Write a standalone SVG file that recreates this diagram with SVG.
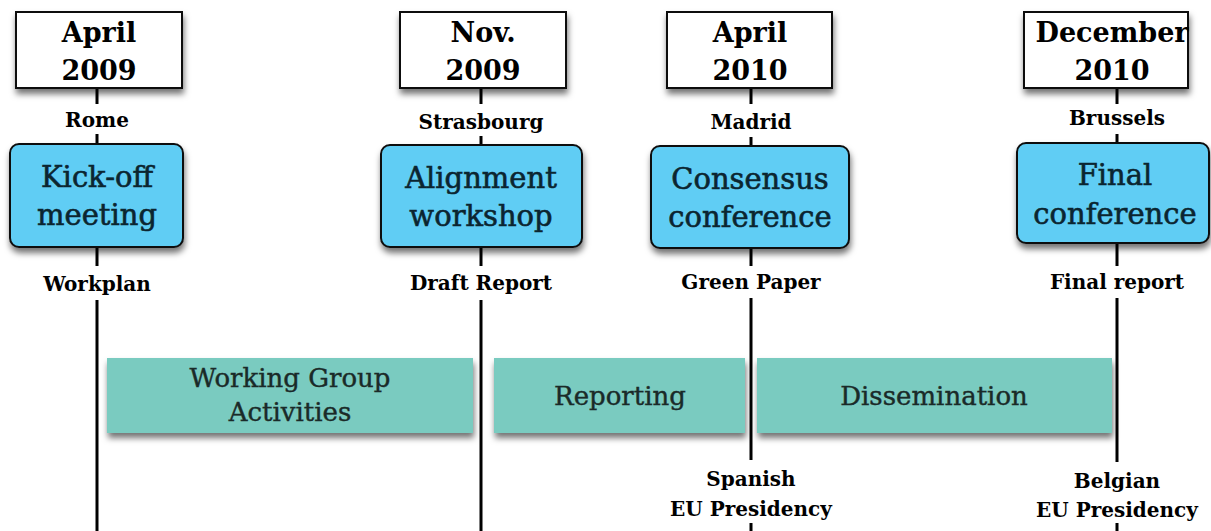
<svg xmlns="http://www.w3.org/2000/svg" width="1211" height="531" viewBox="0 0 1211 531">
<defs>
<filter id="sh" x="-10%" y="-10%" width="125%" height="140%">
<feDropShadow dx="1" dy="5" stdDeviation="3" flood-color="#000" flood-opacity="0.55"/>
</filter>
<style>
.date{fill:#fff;stroke:#111;stroke-width:2}
.ev{fill:#60cdf4;stroke:#111;stroke-width:2}
.bar{fill:#7acbc0}
.ln{stroke:#000;stroke-width:3;fill:none}
text{font-family:"DejaVu Serif","Liberation Serif",serif;text-anchor:middle}
.dt{font-size:27px;font-weight:bold;fill:#000}
.lb{font-size:20px;font-weight:bold;fill:#000}
.et{font-size:29px;fill:#0b2530;stroke:#0b2530;stroke-width:0.6}
.bt{font-size:26px;fill:#1a2a28;stroke:#1a2a28;stroke-width:0.4}
</style>
</defs>
<rect width="1211" height="531" fill="#fff"/>
<g id="connectors">
<path class="ln" d="M97 88V104M97 134V145M97 247V266M97 300V531"/>
<path class="ln" d="M481 88V104M481 136V145M481 247V266M481 300V531"/>
<path class="ln" d="M751 88V104M751 137V146M751 248V266M751 298V460M751 523V531"/>
<path class="ln" d="M1117 88V104M1117 134V143M1117 243V266M1117 298V462M1117 523V531"/>
</g>
<g id="d1"><rect class="date" x="16" y="12" width="166" height="76" filter="url(#sh)"/><text class="dt" x="99" y="42">April</text><text class="dt" x="99" y="80">2009</text></g>
<g id="d2"><rect class="date" x="400" y="12" width="166" height="76" filter="url(#sh)"/><text class="dt" x="483" y="42">Nov.</text><text class="dt" x="483" y="80">2009</text></g>
<g id="d3"><rect class="date" x="667" y="12" width="165" height="76" filter="url(#sh)"/><text class="dt" x="750" y="42">April</text><text class="dt" x="750" y="80">2010</text></g>
<g id="d4"><rect class="date" x="1024" y="12" width="164" height="76" filter="url(#sh)"/><text class="dt" x="1112" y="42">December</text><text class="dt" x="1112" y="80">2010</text></g>
<g id="l1"><text class="lb" x="97" y="127">Rome</text><text class="lb" x="97" y="291">Workplan</text></g>
<g id="l2"><text class="lb" x="481" y="129">Strasbourg</text><text class="lb" x="481" y="290">Draft Report</text></g>
<g id="l3"><text class="lb" x="751" y="129">Madrid</text><text class="lb" x="751" y="289">Green Paper</text></g>
<g id="l4"><text class="lb" x="1117" y="125">Brussels</text><text class="lb" x="1117" y="289">Final report</text></g>
<g id="e1"><rect class="ev" x="10" y="144" width="173" height="103" rx="9" filter="url(#sh)"/><text class="et" x="97" y="187">Kick-off</text><text class="et" x="97" y="225">meeting</text></g>
<g id="e2"><rect class="ev" x="381" y="145" width="201" height="102" rx="9" filter="url(#sh)"/><text class="et" x="481" y="188">Alignment</text><text class="et" x="481" y="226">workshop</text></g>
<g id="e3"><rect class="ev" x="651" y="146" width="198" height="102" rx="9" filter="url(#sh)"/><text class="et" x="750" y="189">Consensus</text><text class="et" x="750" y="227">conference</text></g>
<g id="e4"><rect class="ev" x="1017" y="143" width="192" height="100" rx="9" filter="url(#sh)"/><text class="et" x="1115" y="185">Final</text><text class="et" x="1115" y="224">conference</text></g>
<g id="b1"><rect class="bar" x="107" y="358" width="366" height="75" filter="url(#sh)"/><text class="bt" x="290" y="387">Working Group</text><text class="bt" x="290" y="421">Activities</text></g>
<g id="b2"><rect class="bar" x="494" y="358" width="251" height="75" filter="url(#sh)"/><text class="bt" x="620" y="405">Reporting</text></g>
<g id="b3"><rect class="bar" x="757" y="358" width="355" height="75" filter="url(#sh)"/><text class="bt" x="934" y="405">Dissemination</text></g>
<g id="p1"><text class="lb" x="751" y="486">Spanish</text><text class="lb" x="751" y="516">EU Presidency</text></g>
<g id="p2"><text class="lb" x="1117" y="488">Belgian</text><text class="lb" x="1117" y="517">EU Presidency</text></g>
</svg>
